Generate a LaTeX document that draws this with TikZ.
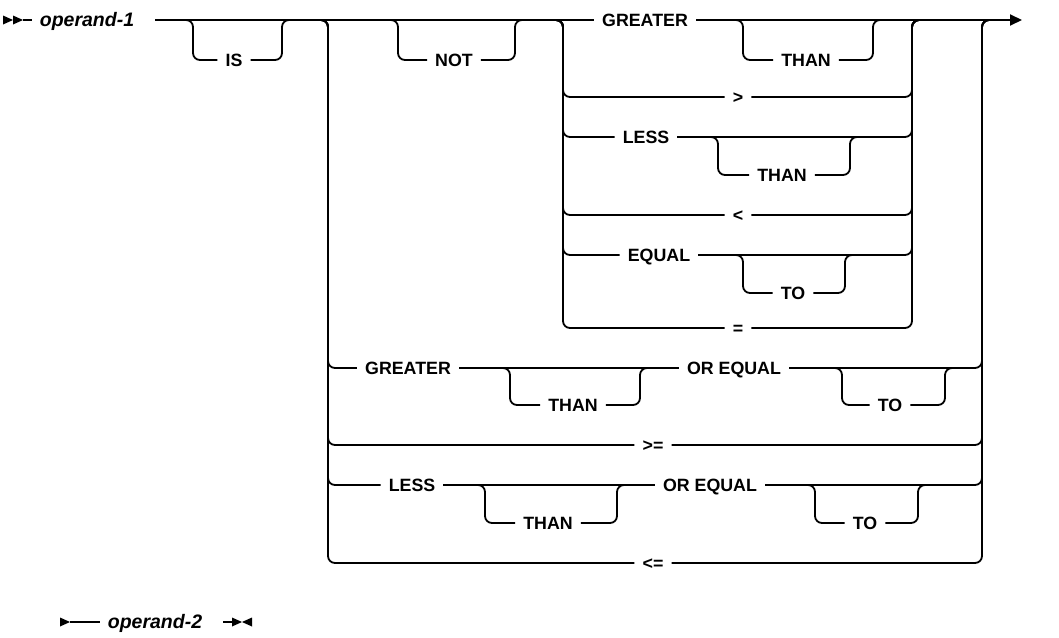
\documentclass[tikz,border=0pt]{standalone}
\usepackage{fontspec}
\setmainfont{Liberation Sans}
\usetikzlibrary{arrows.meta,calc}
\begin{document}
\begin{tikzpicture}[x=1pt,y=-1pt,
  ln/.style={line width=1.8pt},
  rr/.style={line width=1.8pt, rounded corners=7pt},
  kw/.style={font=\fontsize{17.8}{20}\selectfont\bfseries, inner xsep=8pt, inner ysep=0pt, text height=12.8pt, text depth=0pt},
  var/.style={kw, font=\fontsize{19.5}{22}\selectfont\bfseries\itshape}]
\useasboundingbox (0,0) rectangle (1059,637);
% labels
\node[var] (op1) at (87,20) {operand-1};
\node[kw] (is) at (234,60) {IS};
\node[kw] (not) at (454,60) {NOT};
\node[kw] (gt1) at (645,20) {GREATER};
\node[kw] (th1) at (806,60) {THAN};
\node[kw] (gs) at (738,97) {>};
\node[kw] (ls1) at (646,137) {LESS};
\node[kw] (th2) at (782,175) {THAN};
\node[kw] (lsym) at (738,215) {<};
\node[kw] (eq) at (659,255) {EQUAL};
\node[kw] (to1) at (793,293) {TO};
\node[kw] (esym) at (738,328) {=};
\node[kw] (gt2) at (408,368) {GREATER};
\node[kw] (th3) at (573,405) {THAN};
\node[kw] (oe1) at (734,368) {OR EQUAL};
\node[kw] (to2) at (890,405) {TO};
\node[kw] (ge) at (653,445) {>=};
\node[kw] (ls2) at (412,485) {LESS};
\node[kw] (th4) at (548,523) {THAN};
\node[kw] (oe2) at (710,485) {OR EQUAL};
\node[kw] (to3) at (865,523) {TO};
\node[kw] (le) at (653,563) {<=};
\node[var] (op2) at (155,622) {operand-2};
% junctions
\coordinate (s0) at (23,20);
\coordinate (m0) at (155,20);
\coordinate (isA) at (193,20); \coordinate (isB) at (282,20);
\coordinate (L) at (328,20);
\coordinate (notA) at (398,20); \coordinate (notB) at (515,20);
\coordinate (IL) at (563,20);
\coordinate (th1A) at (743,20); \coordinate (th1B) at (873,20);
\coordinate (IR) at (912,20);
\coordinate (R) at (982,20);
\coordinate (e) at (1022,20);
\coordinate (th2A) at (718,137); \coordinate (th2B) at (850,137);
\coordinate (to1A) at (743,255); \coordinate (to1B) at (845,255);
\coordinate (th3A) at (510,368); \coordinate (th3B) at (640,368);
\coordinate (to2A) at (842,368); \coordinate (to2B) at (945,368);
\coordinate (th4A) at (485,485); \coordinate (th4B) at (617,485);
\coordinate (to3A) at (815,485); \coordinate (to3B) at (918,485);
\coordinate (b0) at (70,622);
\coordinate (b1) at (223,622);
\coordinate (b2) at (232,622);
% start / end marks
\fill (3,15.5) -- (13,20) -- (3,24.5) -- cycle;
\fill (13,15.5) -- (23,20) -- (13,24.5) -- cycle;
\fill (60,617.5) -- (70,622) -- (60,626.5) -- cycle;
\fill (232,617.5) -- (242,622) -- (232,626.5) -- cycle;
\fill (252,617.5) -- (242,622) -- (252,626.5) -- cycle;
% main line
\draw[ln] (s0) -- (op1.west);
\draw[ln] (m0) -- (gt1.west);
\draw[ln,-{Triangle[length=12pt,width=11pt]}] (gt1.east) -- (e);
% optional brackets
\newcommand\optbr[3]{%
  \draw[rr] ($(#1)+(-10,0)$) -- (#1) |- (#2.west);
  \draw[rr] (#2.east) -| (#3) -- ($(#3)+(10,0)$);}
\optbr{isA}{is}{isB}
\optbr{notA}{not}{notB}
\optbr{th1A}{th1}{th1B}
\optbr{th2A}{th2}{th2B}
\optbr{to1A}{to1}{to1B}
\optbr{th3A}{th3}{th3B}
\optbr{to2A}{to2}{to2B}
\optbr{th4A}{th4}{th4B}
\optbr{to3A}{to3}{to3B}
% inner choice
\foreach \n in {gs,ls1,lsym,eq,esym}{
  \draw[rr] ($(IL)+(-10,0)$) -- (IL) |- (\n.west);
}
\draw[ln] (ls1.east) -- ($(IR)+(-10,117)$);
\draw[ln] (eq.east) -- ($(IR)+(-10,235)$);
\draw[rr] (gs.east) -| (IR) -- ($(IR)+(10,0)$);
\draw[rr] ($(IR)+(-10,117)$) -| (IR) -- ($(IR)+(10,0)$);
\draw[rr] (lsym.east) -| (IR) -- ($(IR)+(10,0)$);
\draw[rr] ($(IR)+(-10,235)$) -| (IR) -- ($(IR)+(10,0)$);
\draw[rr] (esym.east) -| (IR) -- ($(IR)+(10,0)$);
% outer choice
\foreach \n in {gt2,ge,ls2,le}{
  \draw[rr] ($(L)+(-10,0)$) -- (L) |- (\n.west);
}
\draw[ln] (gt2.east) -- (oe1.west);
\draw[ln] (ls2.east) -- (oe2.west);
\foreach \n in {oe1,ge,oe2,le}{
  \draw[rr] (\n.east) -| (R) -- ($(R)+(10,0)$);
}
% operand-2
\draw[ln] (b0) -- (op2.west);
\draw[ln] (b1) -- (b2);
\end{tikzpicture}
\end{document}
